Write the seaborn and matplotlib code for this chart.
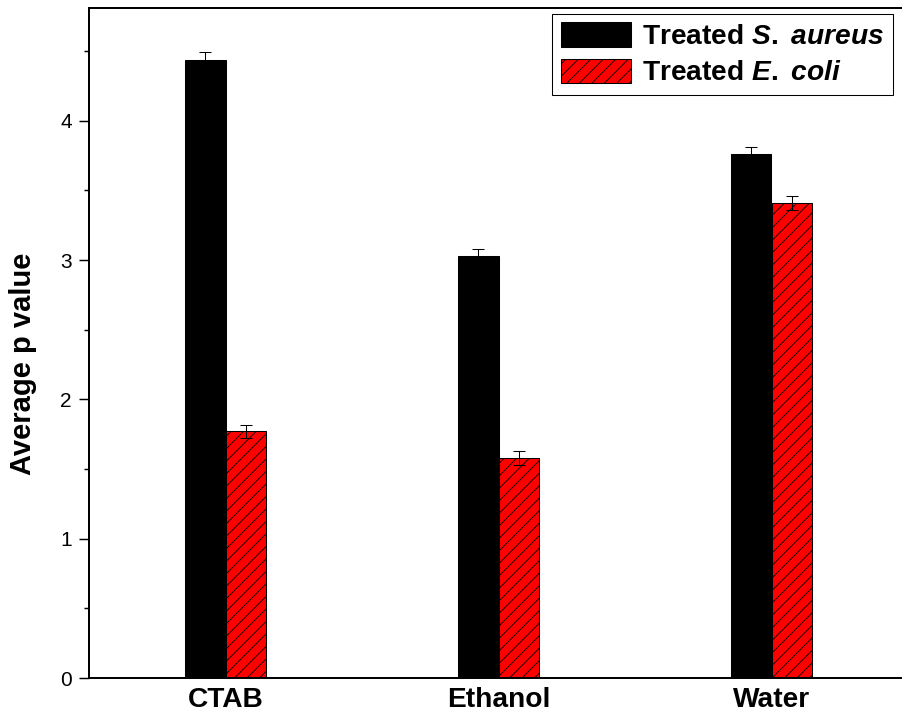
import matplotlib
matplotlib.use("Agg")
import matplotlib.pyplot as plt
import seaborn as sns
import pandas as pd
from matplotlib.ticker import MultipleLocator

# values
solvents = ["CTAB", "Ethanol", "Water"]
groups = ["S. aureus", "E. coli"]
aureus_vals = [4.44, 3.03, 3.76]
coli_vals = [1.77, 1.58, 3.41]
aureus_err = [0.055, 0.05, 0.05]
coli_err = [0.045, 0.05, 0.05]

df = pd.DataFrame({
    "solvent": solvents * 2,
    "group": [groups[0]] * 3 + [groups[1]] * 3,
    "value": aureus_vals + coli_vals,
})

sns.set_style("ticks")
plt.rcParams["font.family"] = ["Liberation Sans", "DejaVu Sans"]
plt.rcParams["mathtext.fontset"] = "custom"
plt.rcParams["mathtext.rm"] = "Liberation Sans:bold"
plt.rcParams["mathtext.it"] = "Liberation Sans:bold:italic"
plt.rcParams["hatch.linewidth"] = 0.8
plt.rcParams["text.color"] = "black"
plt.rcParams["axes.labelcolor"] = "black"
plt.rcParams["xtick.color"] = "black"
plt.rcParams["ytick.color"] = "black"

# dpi 75 so the hatch spacing comes out close to the original
fig = plt.figure(figsize=(902 / 75, 715 / 75), dpi=75)
ax = fig.add_axes([89 / 902, 37 / 715, 819 / 902, 670 / 715])

sns.barplot(data=df, x="solvent", y="value", hue="group",
            palette=["black", "red"], width=0.3, errorbar=None,
            edgecolor="black", linewidth=1, saturation=1, ax=ax)

errs = [aureus_err, coli_err]
for cont, err in zip(ax.containers, errs):
    xs = [b.get_x() + b.get_width() / 2 for b in cont]
    ys = [b.get_height() for b in cont]
    ax.errorbar(xs, ys, yerr=err, fmt="none", ecolor="black",
                elinewidth=1, capsize=6, capthick=1, zorder=5)

for b in ax.containers[1]:
    b.set_hatch("//")

ax.set_xlim(-0.5, 2.5)
ax.set_ylim(0, 4.81)
ax.yaxis.set_major_locator(MultipleLocator(1))
ax.yaxis.set_minor_locator(MultipleLocator(0.5))
ax.tick_params(axis="y", which="major", length=9.5, width=1.4, labelsize=20, pad=7)
ax.tick_params(axis="y", which="minor", length=5, width=1.4)
ax.tick_params(axis="x", length=0, labelsize=27, pad=9)
for lab in ax.get_xticklabels():
    lab.set_fontweight("bold")

ax.set_xlabel("")
ax.set_ylabel("Average p value", fontsize=28, fontweight="bold")
ax.yaxis.set_label_coords(-0.064, 0.469)

for s in ["left", "bottom", "top"]:
    ax.spines[s].set_linewidth(1.9)
    ax.spines[s].set_color("black")
ax.spines["right"].set_visible(False)

handles = [ax.containers[0][0], ax.containers[1][0]]
labels = [r"Treated $\it{S.}$ $\it{aureus}$", r"Treated $\it{E.}$ $\it{coli}$"]
leg = ax.legend(handles, labels, loc="upper right", bbox_to_anchor=(893 / 819 - 89 / 819, 1 - 6 / 670),
                prop={"size": 27, "weight": "bold"}, frameon=True, fancybox=False,
                edgecolor="black", framealpha=1, handlelength=2.5, handleheight=0.95,
                labelspacing=0.3, handletextpad=0.4, borderpad=0.3, borderaxespad=0)
leg.get_frame().set_linewidth(1)

fig.savefig("out.png", dpi=75)
